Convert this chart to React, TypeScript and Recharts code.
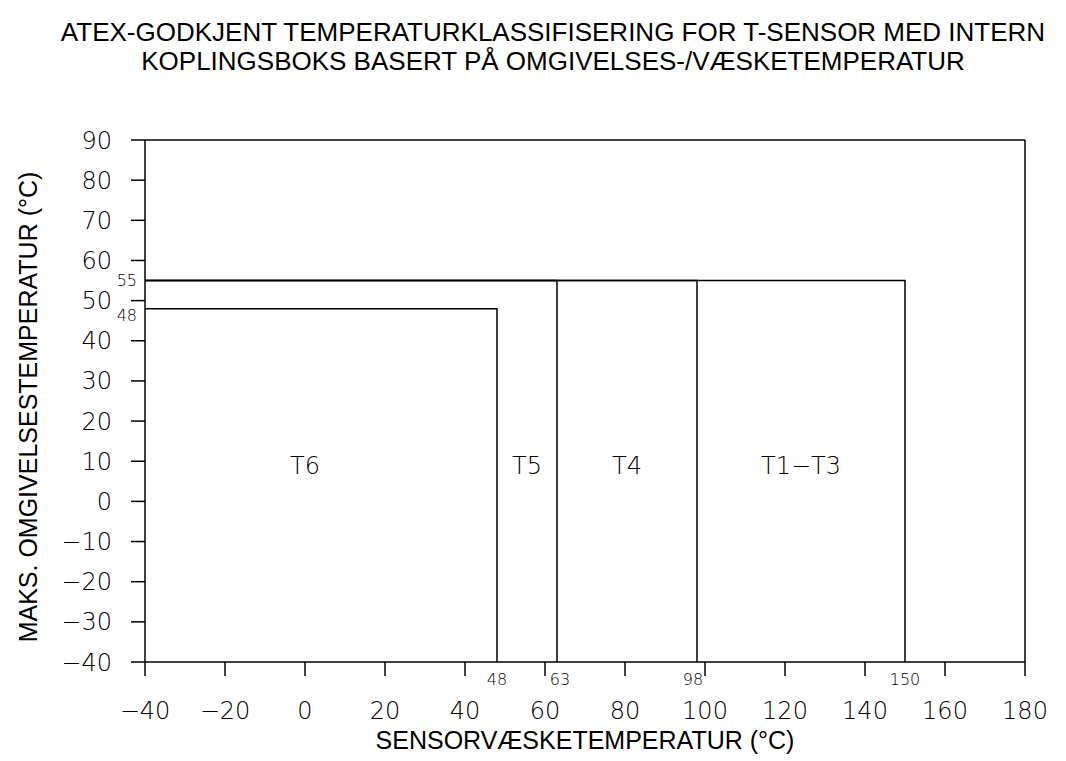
import { ComposedChart, Line, XAxis, YAxis, ReferenceLine, ReferenceDot } from 'recharts';

const xTicks = [-40, -20, 0, 20, 40, 60, 80, 100, 120, 140, 160, 180];
const yTicks = [-40, -30, -20, -10, 0, 10, 20, 30, 40, 50, 60, 70, 80, 90];

// temperature classes: max fluid temp (x) and max ambient temp (y)
const zoneNames = ['T6', 'T5', 'T4', 'T1−T3'];
const zoneMaxFluid = [48, 63, 98, 150];
const zoneMaxAmbient = [48, 55, 55, 55];
const zoneLabelX = [0, 55.5, 80.5, 124];
const zoneLabelY = 10;

const ambientMarks = [55, 48];
const fluidMarks = [48, 63, 98, 150];

const X_MIN = -40;
const X_MAX = 180;
const Y_MIN = -40;
const Y_MAX = 90;

const AMBIENT_DY = [0, 7];
const FLUID_DX = [0, 3, -4, 0];

const TICK_FONT = '"DejaVu Sans", sans-serif';
const TITLE_FONT = '"Liberation Sans", Arial, sans-serif';

const fmt = (v: number) => (v < 0 ? `−${Math.abs(v)}` : `${v}`);

const tag =
  (text: string, dx: number, dy: number, anchor: string, size: number) =>
  (props: any) => {
    const vb = props.viewBox || {};
    const cx = (vb.x ?? 0) + (vb.width ?? 0) / 2;
    const cy = (vb.y ?? 0) + (vb.height ?? 0) / 2;
    return (
      <text
        x={cx + dx}
        y={cy + dy}
        textAnchor={anchor as any}
        dominantBaseline="central"
        fontFamily={TICK_FONT}
        fontWeight={200}
        fontSize={size}
        fill="#000"
      >
        {text}
      </text>
    );
  };

export default function App() {
  const envelopes = zoneMaxFluid.map((fx, i) => [
    { x: X_MIN, y: zoneMaxAmbient[i] },
    { x: fx, y: zoneMaxAmbient[i] },
    { x: fx, y: Y_MIN },
  ]);

  return (
    <div style={{ position: 'absolute', left: 0, top: 0, width: 1066, height: 761, background: '#fff' }}>
      <div
        style={{
          position: 'absolute',
          left: 0,
          width: 1106,
          top: 18,
          textAlign: 'center',
          fontFamily: TITLE_FONT,
          fontSize: 26,
          lineHeight: '29px',
          color: '#000',
        }}
      >
        ATEX-GODKJENT TEMPERATURKLASSIFISERING FOR T-SENSOR MED INTERN
        <br />
        KOPLINGSBOKS BASERT PÅ OMGIVELSES-/VÆSKETEMPERATUR
      </div>

      <ComposedChart width={1066} height={761} margin={{ top: 140, right: 41, bottom: 0, left: 0 }}>
        <XAxis
          type="number"
          dataKey="x"
          domain={[X_MIN, X_MAX]}
          ticks={xTicks}
          tickFormatter={fmt}
          allowDataOverflow
          height={99}
          tickSize={14}
          tickMargin={26}
          axisLine={{ stroke: '#000', strokeWidth: 1.5 }}
          tickLine={{ stroke: '#000', strokeWidth: 1.5 }}
          tick={{ fill: '#000', fontFamily: TICK_FONT, fontWeight: 200, fontSize: 24 }}
        />
        <YAxis
          type="number"
          dataKey="y"
          domain={[Y_MIN, Y_MAX]}
          ticks={yTicks}
          tickFormatter={fmt}
          allowDataOverflow
          width={145}
          tickSize={14}
          tickMargin={19}
          axisLine={{ stroke: '#000', strokeWidth: 1.5 }}
          tickLine={{ stroke: '#000', strokeWidth: 1.5 }}
          tick={{ fill: '#000', fontFamily: TICK_FONT, fontWeight: 200, fontSize: 24 }}
        />
        <ReferenceLine y={Y_MAX} stroke="#000" strokeWidth={1.5} />
        <ReferenceLine x={X_MAX} stroke="#000" strokeWidth={1.5} />

        {envelopes.map((pts, i) => (
          <Line
            key={zoneNames[i]}
            data={pts}
            dataKey="y"
            type="linear"
            stroke="#000"
            strokeWidth={1.5}
            dot={false}
            activeDot={false}
            isAnimationActive={false}
          />
        ))}

        {zoneNames.map((name, i) => (
          <ReferenceDot
            key={`lbl-${name}`}
            x={zoneLabelX[i]}
            y={zoneLabelY}
            r={0}
            fill="none"
            stroke="none"
            label={tag(name, 0, 5, 'middle', 24)}
          />
        ))}

        {ambientMarks.map((v, i) => (
          <ReferenceDot
            key={`am-${v}`}
            x={X_MIN}
            y={v}
            r={0}
            fill="none"
            stroke="none"
            label={tag(String(v), -8, AMBIENT_DY[i], 'end', 16)}
          />
        ))}

        {fluidMarks.map((v, i) => (
          <ReferenceDot
            key={`fm-${v}`}
            x={v}
            y={Y_MIN}
            r={0}
            fill="none"
            stroke="none"
            label={tag(String(v), FLUID_DX[i], 17, 'middle', 16)}
          />
        ))}
      </ComposedChart>

      <div
        style={{
          position: 'absolute',
          left: 585,
          top: 740,
          transform: 'translate(-50%, -50%)',
          whiteSpace: 'nowrap',
          fontFamily: TITLE_FONT,
          fontSize: 25,
          color: '#000',
        }}
      >
        SENSORVÆSKETEMPERATUR (°C)
      </div>
      <div
        style={{
          position: 'absolute',
          left: 28,
          top: 407,
          transform: 'translate(-50%, -50%) rotate(-90deg)',
          whiteSpace: 'nowrap',
          fontFamily: TITLE_FONT,
          fontSize: 25,
          color: '#000',
        }}
      >
        MAKS. OMGIVELSESTEMPERATUR (°C)
      </div>
    </div>
  );
}
